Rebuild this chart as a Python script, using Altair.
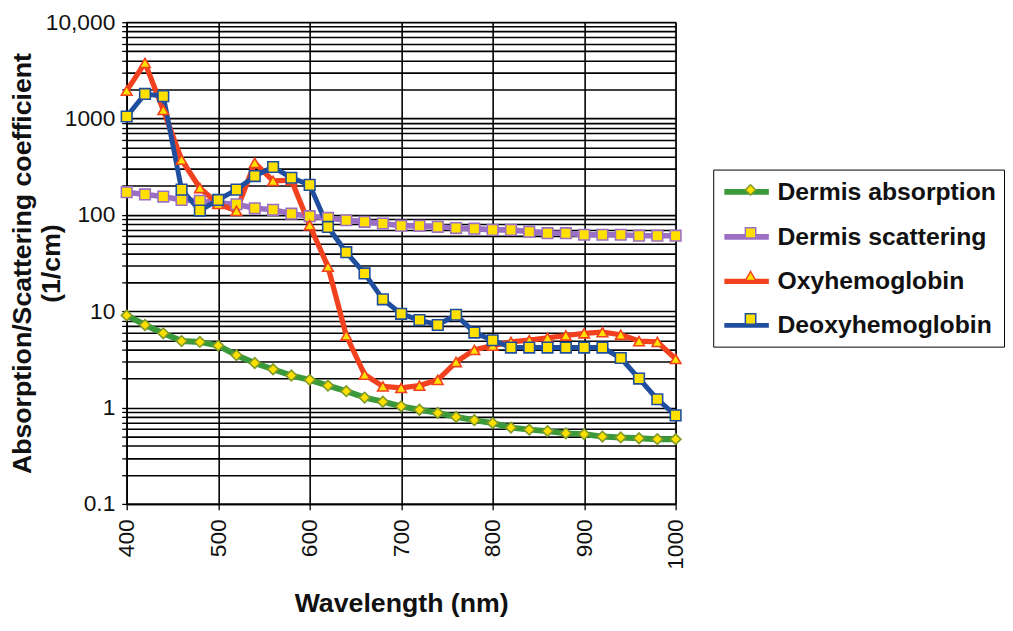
import altair as alt
import pandas as pd

wavelength = [400, 420, 440, 460, 480, 500, 520, 540, 560, 580, 600, 620, 640, 660, 680, 700,
              720, 740, 760, 780, 800, 820, 840, 860, 880, 900, 920, 940, 960, 980, 1000]

series_names = ["Dermis absorption", "Dermis scattering", "Oxyhemoglobin", "Deoxyhemoglobin"]

dermis_absorption = [9.05, 7.2, 5.9, 4.9, 4.8, 4.4, 3.5, 2.9, 2.5, 2.15, 1.94, 1.69, 1.48, 1.27, 1.15, 1.03,
                     0.95, 0.88, 0.80, 0.74, 0.69, 0.62, 0.59, 0.57, 0.54, 0.53, 0.50, 0.49, 0.48, 0.47, 0.47]
dermis_scattering = [172, 163, 155, 143, 140, 133, 129, 117, 113, 103, 97, 93, 88, 84.7, 81.4, 77.3,
                     77, 75.2, 73, 72, 69.9, 69.9, 67, 64.6, 64.6, 62.2, 62.2, 62.2, 60.8, 60.8, 60.8]
oxyhemoglobin = [1950, 3785, 1228, 374, 190, 130, 110, 347, 225, 230, 78, 29, 5.6, 2.2, 1.66, 1.6,
                 1.69, 1.94, 2.97, 3.97, 4.4, 4.8, 5.0, 5.3, 5.6, 5.9, 6.06, 5.7, 4.9, 4.8, 3.2]
deoxyhemoglobin = [1050, 1800, 1710, 183, 111, 143, 183, 253, 314, 243, 205, 75, 41, 24.7, 13.3, 9.4,
                   8.1, 7.2, 9.2, 6.0, 5.0, 4.2, 4.2, 4.2, 4.2, 4.2, 4.2, 3.27, 2.0, 1.22, 0.83]

line_colors = ["#3a9a3a", "#9b70c4", "#f2411e", "#1f4e9e"]
marker_strokes = ["#7d9a2a", "#9b70c4", "#f2411e", "#1f4e9e"]
marker_shapes = ["diamond", "square", "triangle-up", "square"]
line_widths = [6, 5, 6, 6]
marker_fill = "#ffe000"

x_ticks = [400, 500, 600, 700, 800, 900, 1000]
y_ticks = [round(m * 10 ** k, 6) for k in range(-1, 4) for m in range(1, 10)] + [10000]

rows = []
for name, vals in zip(series_names, [dermis_absorption, dermis_scattering, oxyhemoglobin, deoxyhemoglobin]):
    for i, (w, v) in enumerate(zip(wavelength, vals)):
        rows.append({"wavelength": w, "value": v, "series": name, "series2": name + " ", "order": i})
df = pd.DataFrame(rows)
series2_names = [n + " " for n in series_names]

FONT = "Liberation Sans"

x_enc = alt.X(
    "wavelength:Q",
    scale=alt.Scale(domain=[400, 1000], nice=False, zero=False),
    axis=alt.Axis(values=x_ticks, format="d", title="Wavelength (nm)", labelAngle=270, labelFontSize=23,
                  labelPadding=9, tickSize=6, titleFontSize=27, titleFontWeight="bold",
                  titlePadding=22, grid=True),
)
y_enc = alt.Y(
    "value:Q",
    scale=alt.Scale(type="log", domain=[0.1, 10000], nice=False),
    axis=alt.Axis(values=y_ticks,
                  labelExpr="datum.value == 10000 ? '10,000' : (indexof([0.1, 1, 10, 100, 1000], datum.value) >= 0 ? datum.value + '' : '')",
                  labelOverlap=False, labelFontSize=23, labelPadding=7, tickSize=5,
                  title=["Absorption/Scattering coefficient", "(1/cm)"], titleFontSize=27,
                  titleFontWeight="bold", titleLineHeight=29, titlePadding=-20, grid=True),
)

LEG_X = 593
LEG_Y = 149
legend_common = dict(orient="none", title=None, labelFontSize=25, labelFontWeight="bold",
                     labelLimit=400, rowPadding=17.5, padding=8, legendY=LEG_Y)

# line symbol: custom path reaching from -r to +3r (45 px wide) while laid out as 22.5 px
lines = alt.Chart(df).mark_line(strokeJoin="round").encode(
    x=x_enc, y=y_enc,
    color=alt.Color("series:N", scale=alt.Scale(domain=series_names, range=line_colors),
                    legend=alt.Legend(symbolType="M-1,0H3", symbolSize=506, symbolStrokeWidth=5,
                                      labelOffset=28, strokeColor="black", legendX=LEG_X,
                                      **legend_common)),
    strokeWidth=alt.StrokeWidth("series:N", scale=alt.Scale(domain=series_names, range=line_widths), legend=None),
    order="order:Q",
)

marker_legend = alt.Legend(symbolSize=110, symbolStrokeWidth=1.5, symbolFillColor=marker_fill,
                           labelExpr="' '", labelOffset=5, legendX=LEG_X + 17.25, **legend_common)
points = alt.Chart(df).mark_point(filled=False, fill=marker_fill, fillOpacity=1, opacity=1,
                                  size=115, strokeWidth=1.6).encode(
    x=x_enc, y=y_enc,
    shape=alt.Shape("series2:N", scale=alt.Scale(domain=series2_names, range=marker_shapes), legend=marker_legend),
    stroke=alt.Stroke("series2:N", scale=alt.Scale(domain=series2_names, range=marker_strokes), legend=marker_legend),
)

chart = alt.layer(lines, points).properties(
    width=555, height=487, padding={"left": 0, "top": 0, "right": 0, "bottom": 0}
).configure(font=FONT).configure_axis(
    labelFont=FONT, titleFont=FONT, labelColor="#111", titleColor="#111",
    domainColor="black", domainWidth=1.5, tickColor="black", tickWidth=1.3,
    gridColor="black", gridWidth=1.6, gridOpacity=1,
).configure_legend(labelFont=FONT, labelColor="#111").configure_view(stroke="#888", strokeWidth=1.5)

chart.save("out.html", embed_options={"renderer": "svg", "actions": False})
